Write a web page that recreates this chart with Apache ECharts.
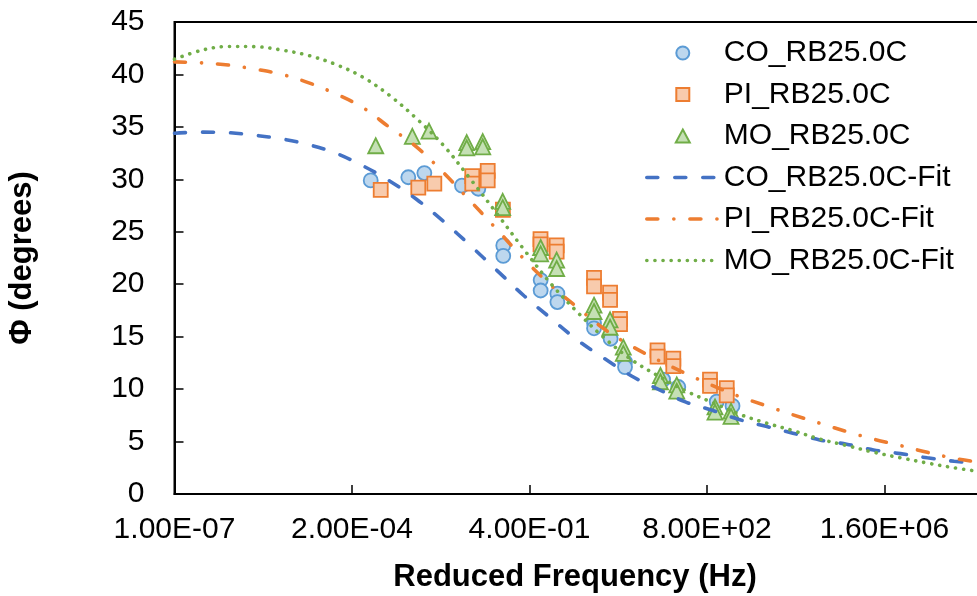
<!DOCTYPE html>
<html>
<head>
<meta charset="utf-8">
<script src="https://cdn.jsdelivr.net/npm/echarts@6/dist/echarts.min.js"></script>
<style>
  html, body { margin: 0; padding: 0; background: #fff; }
  #chart { width: 977px; height: 596px; }
</style>
</head>
<body>
<div id="chart"></div>
<script>
// Measured phase angle vs reduced frequency (Hz) at 25.0 °C
const coFreq = [4.46e-4, 2.23e-3, 4.43e-3, 2.22e-2, 4.47e-2, 0.130, 0.130, 0.645, 0.645, 1.32, 1.32, 6.34, 6.34, 12.9, 23.9, 23.9, 122, 234, 1213, 2385];
const coPhi  = [29.9, 30.2, 30.6, 29.4, 29.1, 23.7, 22.7, 20.4, 19.4, 19.1, 18.3, 16.3, 15.8, 14.8, 12.6, 12.1, 10.9, 10.2, 8.8, 8.4];

const piFreq = [6.84e-4, 3.42e-3, 6.79e-3, 3.45e-2, 3.45e-2, 6.68e-2, 6.68e-2, 0.128, 0.641, 0.641, 1.28, 1.28, 6.34, 6.34, 12.6, 12.6, 19.3, 19.3, 96.2, 96.2, 189, 189, 910, 910, 1862, 1862];
const piPhi  = [29.0, 29.2, 29.6, 30.3, 29.6, 30.8, 29.9, 27.1, 24.3, 23.8, 23.7, 23.1, 20.6, 19.8, 19.2, 18.5, 16.7, 16.2, 13.7, 13.1, 12.9, 12.2, 10.9, 10.3, 10.1, 9.4];

const moFreq = [5.52e-4, 2.65e-3, 5.41e-3, 2.72e-2, 2.72e-2, 5.40e-2, 5.40e-2, 0.127, 0.127, 0.645, 0.645, 1.28, 1.28, 6.34, 6.34, 12.6, 12.6, 22.2, 22.2, 109, 109, 219, 219, 1127, 1127, 2239, 2239];
const moPhi  = [33.2, 34.1, 34.6, 33.5, 33.0, 33.6, 33.1, 27.9, 27.3, 23.5, 22.9, 22.3, 21.5, 18.0, 17.4, 16.6, 15.9, 14.0, 13.4, 11.3, 10.7, 10.4, 9.8, 8.3, 7.8, 7.9, 7.4];

// Fitted master curves, sampled every half decade
const fitFreq = [1e-7, 3.16e-7, 1e-6, 3.16e-6, 1e-5, 3.16e-5, 1e-4, 3.16e-4, 1e-3, 3.16e-3, 1e-2, 3.16e-2, 0.1, 0.316, 1, 3.16, 10, 31.6, 100, 316, 1e3, 3.16e3, 1e4, 3.16e4, 1e5, 3.16e5, 1e6, 3.16e6, 1e7, 3.16e7, 1e8];
const coFit = [34.4, 34.5, 34.45, 34.2, 33.85, 33.3, 32.5, 31.3, 29.85, 28.1, 26.0, 23.7, 21.3, 18.9, 16.75, 14.65, 12.9, 11.25, 9.98, 8.78, 7.98, 7.1, 6.45, 5.8, 5.15, 4.75, 4.2, 3.85, 3.45, 3.12, 2.9];
const piFit = [41.2, 41.1, 40.9, 40.5, 40.0, 39.2, 38.15, 36.85, 34.95, 33.1, 30.65, 27.95, 25.2, 22.4, 19.9, 17.75, 15.7, 14.1, 12.75, 11.5, 10.35, 9.3, 8.42, 7.55, 6.75, 5.95, 5.23, 4.62, 3.97, 3.4, 3.0];
const moFit = [41.45, 42.3, 42.67, 42.65, 42.32, 41.8, 40.95, 39.75, 38.0, 35.8, 33.25, 30.05, 26.7, 23.3, 20.05, 17.3, 14.85, 12.8, 11.25, 9.85, 8.73, 7.62, 6.77, 6.05, 5.24, 4.62, 3.98, 3.45, 2.95, 2.5, 2.12];

// Axis: logarithmic, base 2000, starting at 1.00E-07
const F0 = 1e-7;
const BASE = 2000;
const X_MAX_STEPS = 5;

function toAxis(f) { return Math.log(f / F0) / Math.log(BASE); }
function sci(v) {
  const x = F0 * Math.pow(BASE, v);
  let e = Math.floor(Math.log10(x) + 1e-9);
  let m = x / Math.pow(10, e);
  if (m >= 9.995) { m /= 10; e += 1; }
  return m.toFixed(2) + 'E' + (e < 0 ? '-' : '+') + String(Math.abs(e)).padStart(2, '0');
}
function pairs(fs, vs) { return fs.map((f, i) => [toAxis(f), vs[i]]); }

const FONT = '"Liberation Sans", Arial, sans-serif';
const LINE_W = 3.6;

// Legend keys: a small marker centred in a 72 x 13 key box
const KEY_W = 72, KEY_H = 13;
const KEY_SQUARE = 'path://M0,0M72,13M29.5,0h13v13h-13z';
const KEY_TRIANGLE = 'path://M0,0M72,13M36,0L43,13L29,13z';
const HIDDEN = { color: 'rgba(0,0,0,0)', borderColor: 'rgba(0,0,0,0)', borderWidth: 0 };

function scatterSeries(name, fs, vs, symbol, size, fill, stroke) {
  return {
    type: 'scatter', name, data: pairs(fs, vs), symbol, symbolSize: size,
    itemStyle: { color: fill, borderColor: stroke, borderWidth: 1.8, opacity: 1 },
    z: 2
  };
}
function fitSeries(name, vs, color, dash) {
  return {
    type: 'line', name, data: pairs(fitFreq, vs), symbol: 'none', showSymbol: false,
    smooth: 0.35,
    lineStyle: { color, width: LINE_W, type: dash, cap: 'round' },
    itemStyle: { color },
    z: 3
  };
}

const chart = echarts.init(document.getElementById('chart'), null, { renderer: 'canvas' });
chart.setOption({
  animation: false,
  backgroundColor: '#fff',
  grid: {
    left: 174.5, top: 22, bottom: 102, right: -85,
    containLabel: false, outerBoundsMode: 'none',
    show: true, borderColor: '#000', borderWidth: 2, backgroundColor: 'transparent'
  },
  xAxis: {
    type: 'value', min: 0, max: X_MAX_STEPS, interval: 1,
    axisLine: { show: true, onZero: false, lineStyle: { color: '#000', width: 2 } },
    axisTick: { show: true, inside: true, length: 9, lineStyle: { color: '#000', width: 1.5 } },
    axisLabel: { formatter: sci, fontSize: 30, fontFamily: FONT, color: '#000', margin: 21 },
    splitLine: { show: false }
  },
  yAxis: {
    type: 'value', min: 0, max: 45, interval: 5,
    axisLine: { show: true, lineStyle: { color: '#000', width: 2 } },
    axisTick: { show: true, inside: true, length: 9, lineStyle: { color: '#000', width: 1.5 } },
    axisLabel: { fontSize: 30, fontFamily: FONT, color: '#000', margin: 30 },
    splitLine: { show: false }
  },
  legend: {
    orient: 'vertical', left: 645, top: 38, padding: 0,
    itemWidth: KEY_W, itemHeight: KEY_H, itemGap: 11.5,
    lineStyle: { width: LINE_W },
    textStyle: { fontSize: 30, fontFamily: FONT, color: '#000', lineHeight: 30 },
    data: [
      { name: 'CO_RB25.0C', icon: 'circle' },
      { name: 'PI_RB25.0C', icon: KEY_SQUARE },
      { name: 'MO_RB25.0C', icon: KEY_TRIANGLE },
      { name: 'CO_RB25.0C-Fit', itemStyle: HIDDEN },
      { name: 'PI_RB25.0C-Fit', itemStyle: HIDDEN },
      { name: 'MO_RB25.0C-Fit', itemStyle: HIDDEN }
    ]
  },
  graphic: [
    {
      type: 'text', x: 575, y: 577,
      style: { text: 'Reduced Frequency (Hz)', font: 'bold 31px ' + FONT, fill: '#000', align: 'center', verticalAlign: 'middle' }
    },
    {
      type: 'text', x: 22, y: 258, rotation: Math.PI / 2,
      style: { text: 'Φ (degrees)', font: 'bold 31px ' + FONT, fill: '#000', align: 'center', verticalAlign: 'middle' }
    }
  ],
  series: [
    scatterSeries('CO_RB25.0C', coFreq, coPhi, 'circle', 14, '#BDD7EE', '#5B9BD5'),
    scatterSeries('PI_RB25.0C', piFreq, piPhi, 'rect', 14, '#F8CBAD', '#ED7D31'),
    scatterSeries('MO_RB25.0C', moFreq, moPhi, 'triangle', 15, '#C5E0B4', '#70AD47'),
    fitSeries('CO_RB25.0C-Fit', coFit, '#4472C4', [11, 17]),
    fitSeries('PI_RB25.0C-Fit', piFit, '#ED7D31', [11, 16, 0.1, 16]),
    fitSeries('MO_RB25.0C-Fit', moFit, '#70AD47', [0.1, 8])
  ]
});
</script>
</body>
</html>
